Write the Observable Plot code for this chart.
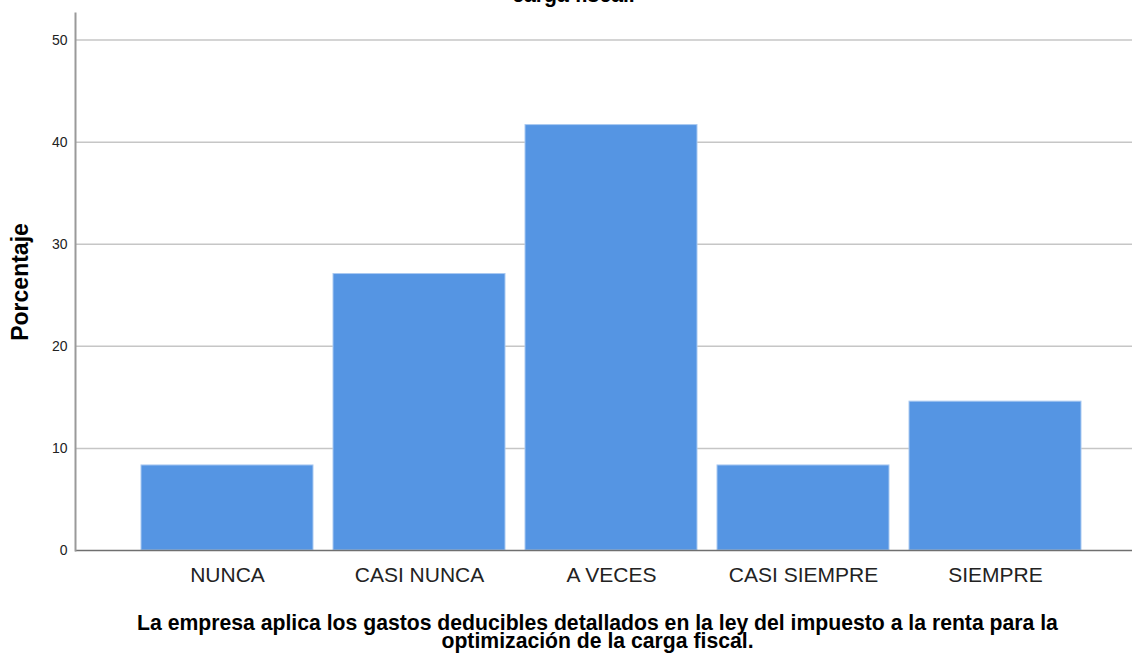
<!DOCTYPE html>
<html>
<head>
<meta charset="utf-8">
<script src="https://cdn.jsdelivr.net/npm/d3@7"></script>
<script src="https://cdn.jsdelivr.net/npm/@observablehq/plot@0.6"></script>
<style>
  body { margin: 0; background: #fff; }
  svg { display: block; }
</style>
</head>
<body>
<div id="chart"></div>
<script>
const categories = ["NUNCA", "CASI NUNCA", "A VECES", "CASI SIEMPRE", "SIEMPRE"];
const percentages = [8.33, 27.08, 41.67, 8.33, 14.58];
const yTicks = [0, 10, 20, 30, 40, 50];
const yLabel = "Porcentaje";
const xTitleLines = [
  "La empresa aplica los gastos deducibles detallados en la ley del impuesto a la renta para la",
  "optimización de la carga fiscal."
];
const topTitleTail = "carga fiscal.";

const data = categories.map((c, i) => ({category: c, value: percentages[i]}));
const font = "'Liberation Sans', Arial, Helvetica, sans-serif";
const frameCenterX = (75 + 1132) / 2;

const chart = Plot.plot({
  width: 1132,
  height: 654,
  marginLeft: 75,
  marginRight: 0,
  marginTop: 13,
  marginBottom: 104,
  style: {fontFamily: font, background: "#fff", color: "#000"},
  x: {domain: categories, range: [129, 1093], paddingInner: 0.1036, paddingOuter: 0.0518},
  y: {domain: [0, 52.6]},
  marks: [
    Plot.ruleY(yTicks.filter(d => d > 0), {stroke: "#c6c6c6", strokeWidth: 1.5}),
    Plot.barY(data, {x: "category", y: "value", fill: "#5595e3", stroke: "#a9c9f1", strokeWidth: 1}),
    Plot.ruleY([0], {stroke: "#6f6f6f", strokeWidth: 1.5}),
    Plot.frame({anchor: "left", stroke: "#9a9a9a", strokeWidth: 2}),
    Plot.axisY({ticks: yTicks, tickSize: 0, tickPadding: 8, fontSize: 14, label: null, color: "#222"}),
    Plot.axisX({tickSize: 0, tickPadding: 17, fontSize: 21, label: null, color: "#222"}),
    Plot.text([yLabel], {frameAnchor: "left", dx: -55, rotate: -90, textAnchor: "middle", fontSize: 23, fontWeight: "bold", fill: "#000"}),
    Plot.text([xTitleLines[0]], {frameAnchor: "bottom", textAnchor: "middle", dx: 597 - frameCenterX, dy: 79, fontSize: 21.2, fontWeight: "bold", fill: "#000", lineAnchor: "bottom"}),
    Plot.text([xTitleLines[1]], {frameAnchor: "bottom", textAnchor: "middle", dx: 597 - frameCenterX, dy: 97.5, fontSize: 21.2, fontWeight: "bold", fill: "#000", lineAnchor: "bottom"}),
    Plot.text([topTitleTail], {frameAnchor: "top", textAnchor: "middle", dx: 573 - frameCenterX, dy: -12, fontSize: 21.2, fontWeight: "bold", fill: "#000", lineAnchor: "bottom"})
  ]
});
document.getElementById("chart").append(chart);
</script>
</body>
</html>
